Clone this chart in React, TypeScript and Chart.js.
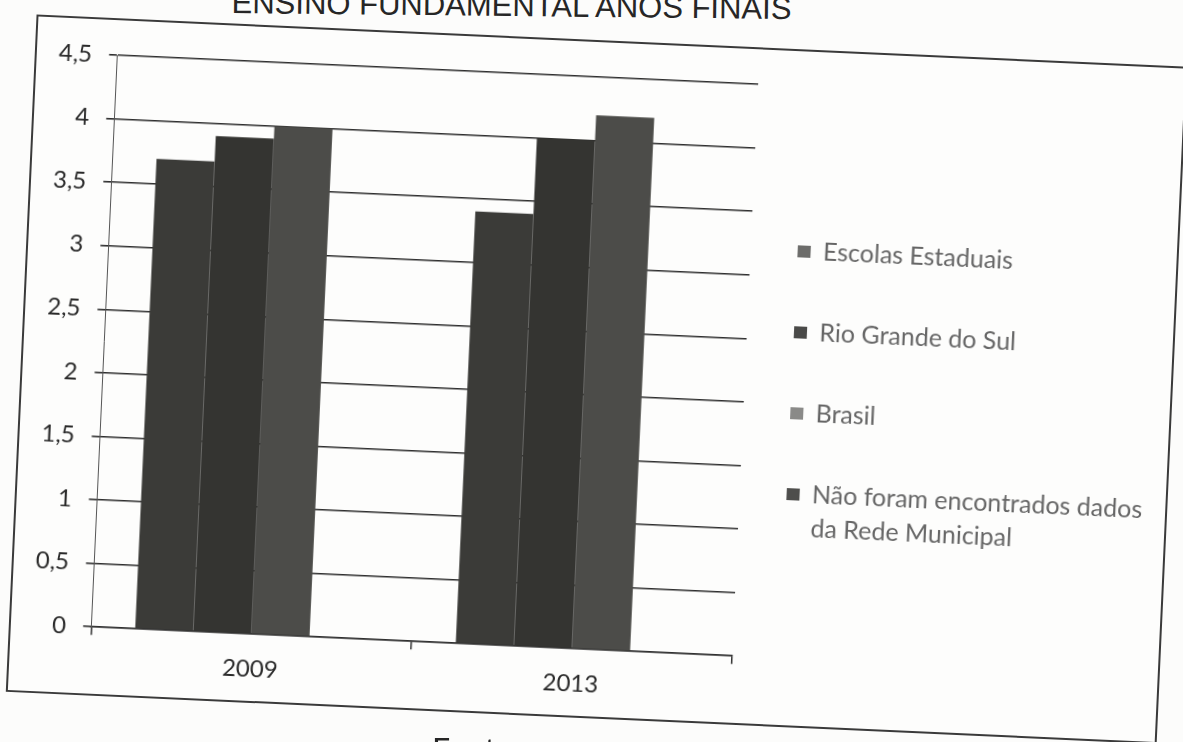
import React, { useEffect, useRef } from 'react';
import { Chart, registerables } from 'chart.js';

Chart.register(...registerables);

const categories = ['2009', '2013'];
const escolasEstaduais = [3.7, 3.4];
const rioGrandeDoSul = [3.9, 4.0];
const brasil = [4.0, 4.2];
const redeMunicipal: (number | null)[] = [null, null];
const seriesNames = [
  'Escolas Estaduais',
  'Rio Grande do Sul',
  'Brasil',
  'Não foram encontrados dados da Rede Municipal',
];
const legendLines = [
  ['Escolas Estaduais'],
  ['Rio Grande do Sul'],
  ['Brasil'],
  ['Não foram encontrados dados', 'da Rede Municipal'],
];
const yTickLabels = ['0', '0,5', '1', '1,5', '2', '2,5', '3', '3,5', '4', '4,5'];
const titleText = 'ENSINO FUNDAMENTAL ANOS FINAIS';
const sourceText = 'Fonte:';

const barColors = ['#3b3b38', '#343431', '#4c4c49', '#404040'];
const swatchColors = ['#6c6c6a', '#4a4a48', '#8a8a88', '#4e4e4c'];

export default function App() {
  const canvasRef = useRef<HTMLCanvasElement | null>(null);

  useEffect(() => {
    const canvas = canvasRef.current;
    if (!canvas) return;
    const seriesData = [escolasEstaduais, rioGrandeDoSul, brasil, redeMunicipal];
    const chart = new Chart(canvas, {
      type: 'bar',
      data: {
        labels: categories,
        datasets: seriesData.map((d, i) => ({
          label: seriesNames[i],
          data: d,
          backgroundColor: barColors[i],
          borderWidth: 0,
          categoryPercentage: 0.725,
          barPercentage: 1.0,
        })),
      },
      options: {
        responsive: false,
        maintainAspectRatio: false,
        animation: false,
        layout: { padding: { top: 35, bottom: 4, left: 5, right: 13 } },
        plugins: {
          tooltip: { enabled: false },
          title: { display: false },
          legend: {
            position: 'right',
            align: 'start',
            maxWidth: 520,
            title: {
              display: true,
              text: '',
              font: { size: 1, lineHeight: 1 },
              padding: { top: 104.5, bottom: 0 },
            },
            labels: {
              boxWidth: 13,
              boxHeight: 12,
              padding: 47,
              color: '#2a2a2a',
              font: { family: 'Lato', size: 25, lineHeight: 1.36 },
              generateLabels: (c: any) =>
                c.data.datasets.map((_ds: any, i: number) => ({
                  text: legendLines[i],
                  fillStyle: swatchColors[i],
                  strokeStyle: swatchColors[i],
                  lineWidth: 0,
                  hidden: false,
                  datasetIndex: i,
                })),
            },
          },
        },
        scales: {
          x: {
            grid: {
              display: true,
              drawOnChartArea: false,
              drawTicks: true,
              tickLength: 8,
              color: '#333',
              lineWidth: 1.5,
              offset: true,
            },
            border: { display: true, color: '#2e2e2e', width: 1.6 },
            ticks: { color: '#2a2a2a', font: { family: 'Lato', size: 24 }, padding: 13 },
          },
          y: {
            min: 0,
            max: 4.5,
            ticks: {
              stepSize: 0.5,
              color: '#2a2a2a',
              font: { family: 'Lato', size: 24 },
              padding: 17,
              callback: (_v: any, i: number) => yTickLabels[i],
            },
            grid: { color: '#2e2e2e', lineWidth: 1.6, tickLength: 8, drawTicks: true },
            border: { display: true, color: '#555', width: 1 },
          },
        },
      },
    } as any);
    return () => chart.destroy();
  }, []);

  return (
    <div
      style={{
        position: 'fixed',
        left: 0,
        top: 0,
        width: 1183,
        height: 742,
        overflow: 'hidden',
        background: '#fcfcfb',
      }}
    >
      <div
        style={{
          position: 'absolute',
          left: 0,
          top: -10,
          width: 1023,
          textAlign: 'center',
          fontFamily: '"Liberation Sans", Arial, sans-serif',
          fontSize: 31,
          lineHeight: '31px',
          color: '#262626',
          whiteSpace: 'nowrap',
          transform: 'rotate(0.6deg)',
          transformOrigin: '511px 20px',
        }}
      >
        {titleText}
      </div>
      <div
        style={{
          position: 'absolute',
          left: 0,
          top: 0,
          width: 1183,
          height: 742,
          transform: 'rotate(2.6deg)',
          transformOrigin: '590px 370px',
        }}
      >
        <div
          style={{
            position: 'absolute',
            left: 21,
            top: 40,
            width: 1148,
            height: 674,
            border: '2px solid #3a3a3a',
            background: '#fdfdfc',
          }}
        >
          <canvas ref={canvasRef} width={1148} height={674} style={{ display: 'block' }} />
        </div>
      </div>
      <div
        style={{
          position: 'absolute',
          left: 432,
          top: 733,
          fontFamily: 'Lato, sans-serif',
          fontSize: 32,
          lineHeight: '34px',
          color: '#262626',
          whiteSpace: 'nowrap',
        }}
      >
        {sourceText}
      </div>
    </div>
  );
}
